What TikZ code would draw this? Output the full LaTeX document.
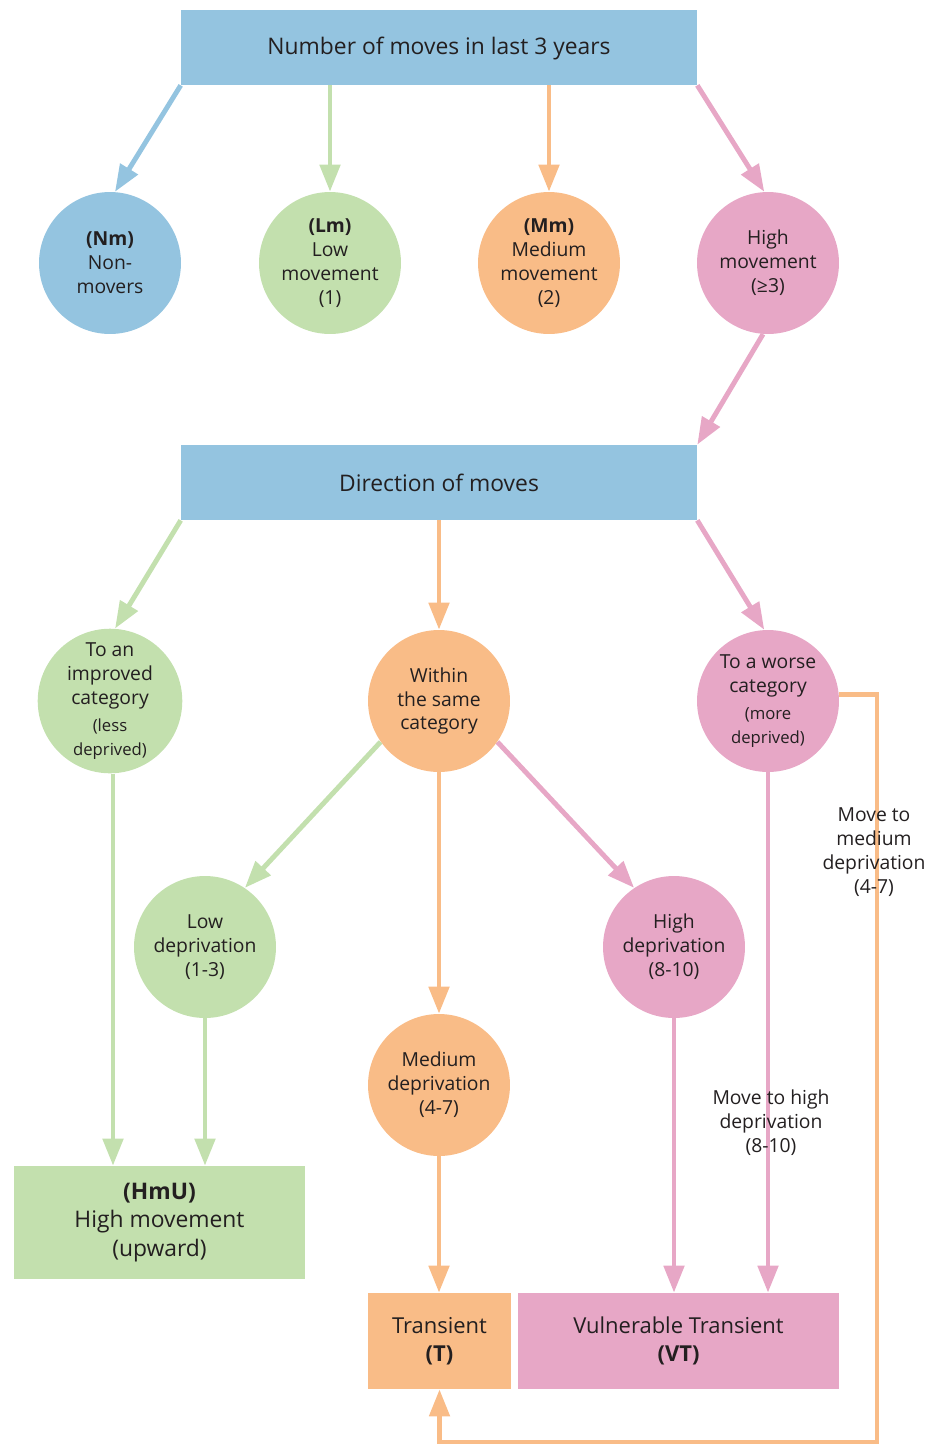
\documentclass[tikz,border=0pt]{standalone}
\usepackage{fontspec}
\setmainfont{Open Sans}
\usetikzlibrary{arrows.meta}
\definecolor{bleu}{HTML}{94C4E0}
\definecolor{vert}{HTML}{C3E0AE}
\definecolor{orange}{HTML}{F9BC87}
\definecolor{rose}{HTML}{E7A7C6}
\definecolor{encre}{HTML}{231F20}
\newcommand{\petit}[1]{{\fontsize{9.5}{10.5}\selectfont #1}}
\tikzset{
	rond/.style={circle,fill=#1,minimum size=2.84cm,inner sep=0pt,align=center,text=encre,font=\fontsize{11}{13.6}\selectfont},
	boite/.style={rectangle,fill=#1,inner sep=0pt,align=center,text=encre},
	fleche/.style={draw=#1,line width=2.8pt,-{Triangle[length=0.54cm,width=0.4cm]}},
	trait/.style={draw=#1,line width=2.8pt}
}
\begin{document}
\begin{tikzpicture}[x=0.02cm,y=-0.02cm]
%					Cadre :
					\useasboundingbox (0,0) rectangle (937,1444);
%					Boîtes :
					\node[boite=bleu,minimum width=10.32cm,minimum height=1.5cm,font=\fontsize{13}{16}\selectfont] (nombre) at (439,47.5) {\rule{0pt}{11pt}Number of moves in last 3 years};
					\node[boite=bleu,minimum width=10.32cm,minimum height=1.5cm,font=\fontsize{13}{16}\selectfont] (direction) at (439,482.5) {Direction of moves};
					\node[boite=vert,minimum width=5.82cm,minimum height=2.26cm,font=\fontsize{13}{16.2}\selectfont] (hmu) at (159.5,1222.5) {\textbf{(HmU)}\\High movement\\(upward)};
					\node[boite=orange,minimum width=2.86cm,minimum height=1.92cm,font=\fontsize{12.5}{16.2}\selectfont] (trans) at (439.5,1341) {Transient\\\textbf{(T)}};
					\node[boite=rose,minimum width=6.42cm,minimum height=1.92cm,font=\fontsize{12.5}{16.2}\selectfont] (vt) at (678.5,1341) {Vulnerable Transient\\\textbf{(VT)}};
%					Cercles du haut :
					\node[rond=bleu] (nm) at (110,263) {\textbf{(Nm)}\\Non-\\movers};
					\node[rond=vert] (lm) at (330,263) {\textbf{(Lm)}\\Low\\movement\\(1)};
					\node[rond=orange] (mm) at (549,263) {\textbf{(Mm)}\\Medium\\movement\\(2)};
					\node[rond=rose] (hm) at (768,263) {High\\movement\\(≥3)};
%					Cercles du milieu :
					\node[rond=vert] (mieux) at (110,701) {To an\\improved\\category\\[2pt]\petit{(less}\\\petit{deprived)}};
					\node[rond=orange] (meme) at (439,701) {Within\\the same\\category};
					\node[rond=rose] (pire) at (768,701) {To a worse\\category\\[2pt]\petit{(more}\\\petit{deprived)}};
%					Cercles du bas :
					\node[rond=vert] (faible) at (205,947) {Low\\deprivation\\(1-3)};
					\node[rond=rose] (forte) at (674,947) {High\\deprivation\\(8-10)};
					\node[rond=orange] (moyen) at (439,1085) {Medium\\deprivation\\(4-7)};
%					Flèches du haut :
					\draw[fleche=bleu] (nombre.south west) -- (nm.86);
					\draw[fleche=vert] (lm.north |- nombre.south) -- (lm);
					\draw[fleche=orange] (mm.north |- nombre.south) -- (mm);
					\draw[fleche=rose] (nombre.south east) -- (hm.93);
					\draw[fleche=rose] (hm.266) -- (direction.north east);
%					Flèches du milieu :
					\draw[fleche=vert] (direction.south west) -- (mieux.86);
					\draw[fleche=orange] (direction.south) -- (meme);
					\draw[fleche=rose] (direction.south east) -- (pire.93);
					\draw[fleche=vert] (meme.215) -- (faible.56);
					\draw[fleche=rose] (meme.325) -- (forte.124);
					\draw[fleche=orange] (meme) -- (moyen);
%					Flèches du bas :
					\draw[fleche=vert] ([xshift=0.06cm]mieux.south) -- ([xshift=0.06cm]mieux.south |- hmu.north);
					\draw[fleche=vert] (faible) -- (faible |- hmu.north);
					\draw[fleche=orange] (moyen) -- (moyen |- trans.north);
					\draw[fleche=rose] (forte) -- (forte |- vt.north);
					\draw[fleche=rose] (pire) -- (pire |- vt.north);
%					Retour vers Transient :
					\coordinate (coin) at (877,1442);
					\draw[trait=orange,-{Triangle[length=0.54cm,width=0.4cm]}] (pire.5) -| (coin) -| (trans.south);
%					Étiquettes :
					\node[align=center,text=encre,font=\fontsize{11}{13.6}\selectfont] (moyenlab) at (874,852) {Move to\\medium\\deprivation\\(4-7)};
					\node[align=center,text=encre,font=\fontsize{11}{13.6}\selectfont] (fortelab) at (771,1123) {Move to high\\deprivation\\(8-10)};
				\end{tikzpicture}
\end{document}
